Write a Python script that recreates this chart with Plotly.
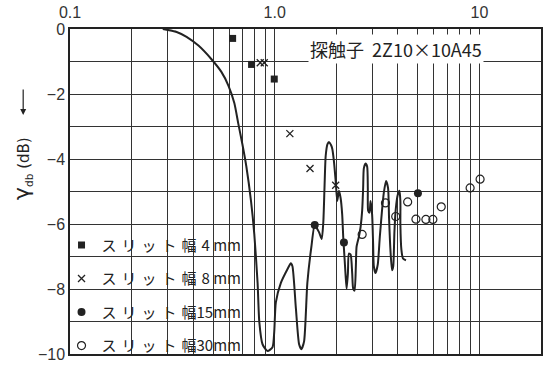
import plotly.graph_objects as go

# ---- data ----
curve_x = [0.284, 0.332, 0.371, 0.424, 0.491, 0.549, 0.594, 0.635, 0.664, 0.695,
           0.727, 0.766, 0.795, 0.825, 0.841, 0.872, 0.923, 0.976, 0.995, 1.013,
           1.072, 1.154, 1.199, 1.221, 1.269, 1.316, 1.350, 1.392, 1.444, 1.511,
           1.569, 1.646, 1.697, 1.728, 1.751, 1.775, 1.811, 1.842, 1.884, 1.912,
           1.948, 1.986, 2.021, 2.060, 2.099, 2.137, 2.162, 2.196, 2.221, 2.246,
           2.279, 2.304, 2.349, 2.391, 2.418, 2.456, 2.492, 2.512, 2.577, 2.627,
           2.675, 2.705, 2.726, 2.779, 2.829, 2.851, 2.861, 2.906, 2.939, 2.992,
           3.026, 3.050, 3.108, 3.189, 3.262, 3.347, 3.411, 3.499, 3.579, 3.619,
           3.676, 3.743, 3.794, 3.845, 3.902, 3.990, 4.067, 4.112, 4.112, 4.159,
           4.234, 4.379]
curve_y = [0, -0.09, -0.24, -0.51, -0.93, -1.32, -1.74, -2.28, -2.91, -3.54,
           -4.23, -5.29, -6.31, -7.81, -9.01, -9.70, -9.91, -9.79, -9.31, -8.41,
           -7.81, -7.39, -7.21, -7.30, -8.59, -9.70, -9.85, -9.61, -7.81, -6.70,
           -6.04, -6.25, -6.46, -5.95, -4.89, -3.90, -3.54, -3.48, -3.57, -3.69,
           -4.08, -4.68, -5.29, -4.98, -5.20, -5.71, -6.40, -7.09, -7.60, -7.99,
           -7.51, -6.91, -6.94, -7.51, -7.99, -8.05, -7.30, -6.70, -6.40, -6.10,
           -5.59, -4.89, -4.29, -4.14, -4.23, -4.89, -5.59, -5.65, -5.29, -5.71,
           -6.61, -7.30, -7.51, -7.24, -6.40, -5.56, -5.05, -4.68, -4.89, -5.80,
           -6.79, -7.42, -7.30, -6.25, -5.56, -5.11, -4.98, -5.29, -6.01, -6.79,
           -7.06, -7.12]

slit4_x = [0.623, 0.771, 0.995]
slit4_y = [-0.29, -1.09, -1.54]
slit8_x = [0.850, 0.889, 1.186, 1.488, 1.986]
slit8_y = [-1.04, -1.04, -3.22, -4.29, -4.81]
slit15_x = [1.569, 2.179, 5.01]
slit15_y = [-6.03, -6.57, -5.05]
slit30_x = [2.675, 3.476, 3.902, 4.463, 4.898, 5.479, 5.926, 6.511, 9.01, 10.08]
slit30_y = [-6.32, -5.35, -5.77, -5.32, -5.85, -5.86, -5.86, -5.47, -4.89, -4.62]

S = "\u2004"  # three-per-em space, for the wide kana spacing of the original
series_names = [S.join("スリット幅") + S + "4 mm",
                S.join("スリット幅") + S + "8 mm",
                S.join("スリット幅") + "15mm",
                S.join("スリット幅") + "30mm"]

x_grid = [0.1, 0.2, 0.3, 0.4, 0.5, 0.6, 0.7, 0.8, 0.9,
          1, 2, 3, 4, 5, 6, 7, 8, 9, 10]
x_labels = {0.1: "0.1", 1: "1.0", 10: "10"}
y_grid = [0, -1, -2, -3, -4, -5, -6, -7, -8, -9, -10]
y_labels = {0: "0", -2: "−2", -4: "−4", -6: "−6", -8: "−8", -10: "−10"}

INK = "#222222"
FONT = "Noto Sans CJK JP"

fig = go.Figure()
fig.add_trace(go.Scatter(x=curve_x, y=curve_y, mode="lines",
                         line=dict(color=INK, width=2, shape="spline", smoothing=0.6),
                         showlegend=False, hoverinfo="skip"))
fig.add_trace(go.Scatter(x=slit4_x, y=slit4_y, mode="markers", name=series_names[0],
                         legendgroup="a",
                         marker=dict(symbol="square", size=7, color=INK)))
fig.add_trace(go.Scatter(x=slit8_x, y=slit8_y, mode="markers", name=series_names[1],
                         legendgroup="b",
                         marker=dict(symbol="x-thin", size=7, color=INK,
                                     line=dict(color=INK, width=1.3))))
fig.add_trace(go.Scatter(x=slit15_x, y=slit15_y, mode="markers", name=series_names[2],
                         legendgroup="c",
                         marker=dict(symbol="circle", size=8, color=INK)))
fig.add_trace(go.Scatter(x=slit30_x, y=slit30_y, mode="markers", name=series_names[3],
                         legendgroup="d",
                         marker=dict(symbol="circle-open", size=8, color=INK,
                                     line=dict(color=INK, width=1.2))))

fig.update_layout(
    width=547, height=367,
    margin=dict(l=70, r=4, t=27, b=7),
    paper_bgcolor="white", plot_bgcolor="white",
    font=dict(family="Liberation Sans", color=INK, size=16),
    xaxis=dict(type="log", range=[-1, 1.30103], side="top",
               tickvals=x_grid,
               ticktext=[x_labels.get(v, "") for v in x_grid],
               showgrid=True, gridcolor="#333333", gridwidth=1.1,
               showline=True, linecolor=INK, linewidth=1.5, mirror=True,
               ticks="", zeroline=False, ticklabelstandoff=3,
               ticklabeloverflow="allow",
               tickfont=dict(family="Liberation Sans", size=16, color="#333333")),
    yaxis=dict(range=[-10, 0], tickvals=y_grid,
               ticktext=[y_labels.get(v, "") for v in y_grid],
               showgrid=True, gridcolor="#333333", gridwidth=1.1,
               showline=True, linecolor=INK, linewidth=1.5, mirror=True,
               ticks="", zeroline=False, ticklabeloverflow="allow",
               tickfont=dict(family="Liberation Sans", size=16, color="#333333")),
    legend=dict(x=-0.018, y=-0.024, xanchor="left", yanchor="bottom",
                bgcolor="rgba(0,0,0,0)", borderwidth=0,
                font=dict(family=FONT, size=15, color=INK),
                tracegroupgap=11),
    shapes=[dict(type="rect", xref="paper", yref="paper", x0=0, x1=0.362,
                 y0=0, y1=0.39, fillcolor="white", line=dict(width=0),
                 layer="between")],
    annotations=[
        dict(text="探触子  2Z10×10A45", xref="paper", yref="paper",
             x=0.692, y=0.94, xanchor="center", yanchor="middle",
             showarrow=False, bgcolor="white",
             font=dict(family=FONT, size=18, color=INK)),
        dict(text="<span style='font-size:22px'>γ</span><sub>db</sub> (dB)",
             xref="paper", yref="paper", x=-0.1015, y=0.57,
             xanchor="center", yanchor="middle", textangle=-90,
             showarrow=False, font=dict(family="DejaVu Sans", size=15, color=INK)),
        dict(text="", xref="paper", yref="paper", x=-0.0994, y=0.7357,
             ax=0, ay=-27, showarrow=True, arrowhead=2, arrowsize=1,
             arrowwidth=1.2, arrowcolor=INK),
    ],
)

fig.write_html("out.html")
